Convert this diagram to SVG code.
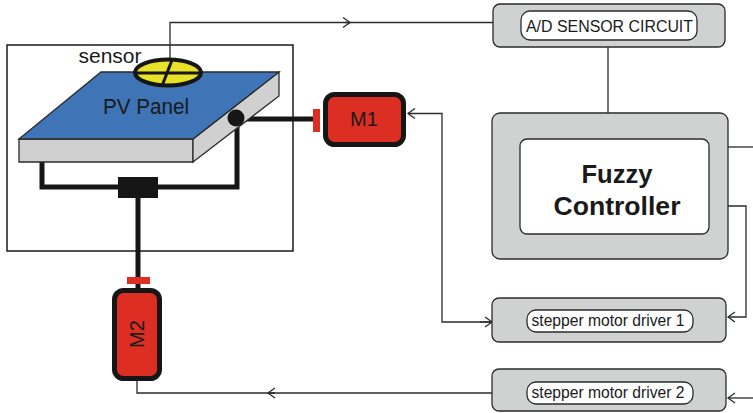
<svg xmlns="http://www.w3.org/2000/svg" width="753" height="413" viewBox="0 0 753 413">
  <defs>
    <style>
      .wire { fill: none; stroke: #2b2b2b; stroke-width: 1.3; }
      .thick { fill: none; stroke: #161616; stroke-width: 5; }
      .block { fill: #d0d1d1; stroke: #2b2b2b; stroke-width: 1.3; }
      .pill { fill: #ffffff; stroke: #2b2b2b; stroke-width: 1.3; }
      .motor { fill: #dc2e22; stroke: #161616; stroke-width: 5; }
      .label { font-family: "Liberation Sans", Arial, sans-serif; fill: #1a1a1a; text-anchor: middle; }
    </style>
    <marker id="open" markerWidth="10" markerHeight="12" refX="8" refY="6" orient="auto" markerUnits="userSpaceOnUse">
      <path d="M1,1 L8,6 L1,11" fill="none" stroke="#2b2b2b" stroke-width="1.3"/>
    </marker>
  </defs>

  <!-- panel enclosure -->
  <g id="enclosure">
    <rect x="7" y="45" width="286" height="206" fill="#ffffff" stroke="#1a1a1a" stroke-width="1.5"/>
  </g>

  <!-- connectors -->
  <g id="connectors">
    <!-- sensor to A/D circuit -->
    <path class="wire" d="M170,59 V22.5 H350" marker-end="url(#open)"/>
    <path class="wire" d="M345,22.5 H493"/>
    <!-- A/D circuit to fuzzy controller -->
    <path class="wire" d="M608,47 V113"/>
    <!-- fuzzy controller outputs -->
    <path class="wire" d="M728,147 H753"/>
    <path class="wire" d="M728,206 H746 V317 H728" marker-end="url(#open)"/>
    <!-- driver 1 to M1 -->
    <path class="wire" d="M492,322 H442 V113.5 H408" marker-end="url(#open)"/>
    <!-- left input into driver 1 -->
    <path class="wire" d="M480,322 H492" marker-end="url(#open)"/>
    <!-- into driver 2 from the right -->
    <path class="wire" d="M753,398 H728" marker-end="url(#open)"/>
    <!-- driver 2 to M2 -->
    <path class="wire" d="M492,393 H268" marker-end="url(#open)"/>
    <path class="wire" d="M275,393 H137 V380"/>
    <!-- heavy mechanical links -->
    <path class="thick" d="M42,162 V187 H237 V118"/>
    <path class="thick" d="M237,119 H314"/>
    <path class="thick" d="M138,198 V288"/>
  </g>

  <!-- PV panel -->
  <g id="pv-panel">
    <polygon points="19,139 193,139 193,162 19,162" fill="#cfd0cf" stroke="#2b2b2b" stroke-width="1.3"/>
    <polygon points="193,139 279,72 279,96 193,162" fill="#cfd0cf" stroke="#2b2b2b" stroke-width="1.3"/>
    <polygon points="19,139 101,72 279,72 193,139" fill="#3f74b6" stroke="#2b2b2b" stroke-width="1.3"/>
    <text class="label" x="146" y="114" font-size="22" textLength="86" lengthAdjust="spacingAndGlyphs">PV Panel</text>
    <circle cx="236" cy="118" r="8.5" fill="#161616"/>
  </g>

  <!-- light sensor on top of the panel -->
  <g id="sensor">
    <ellipse cx="168" cy="72.5" rx="33" ry="13" fill="#e8e327" stroke="#161616" stroke-width="4"/>
    <line x1="135" y1="73" x2="201" y2="73" stroke="#161616" stroke-width="3"/>
    <line x1="172" y1="60" x2="162" y2="86" stroke="#161616" stroke-width="3"/>
    <text class="label" x="110" y="63" font-size="20" textLength="63" lengthAdjust="spacingAndGlyphs">sensor</text>
  </g>

  <!-- coupling block under the panel -->
  <g id="gearbox">
    <rect x="118" y="177" width="40" height="21" fill="#161616"/>
  </g>

  <!-- motor M1 -->
  <g id="m1">
    <rect class="motor" x="325.5" y="94.5" width="78" height="50" rx="9"/>
    <rect x="313" y="109" width="7" height="23" fill="#dc2e22"/>
    <text class="label" x="364" y="126" font-size="20">M1</text>
  </g>

  <!-- motor M2 -->
  <g id="m2">
    <rect class="motor" x="114.5" y="290.5" width="45" height="88" rx="9"/>
    <rect x="127" y="277" width="23" height="7" fill="#dc2e22"/>
    <text class="label" x="0" y="0" font-size="20" transform="translate(144,334) rotate(-90)">M2</text>
  </g>

  <!-- A/D sensor circuit -->
  <g id="ad-sensor">
    <rect class="block" x="493" y="4" width="232" height="43" rx="7"/>
    <rect class="pill" x="521" y="11" width="176" height="29" rx="9"/>
    <text class="label" x="609.5" y="32" font-size="16" textLength="167" lengthAdjust="spacingAndGlyphs">A/D SENSOR CIRCUIT</text>
  </g>

  <!-- fuzzy controller -->
  <g id="fuzzy-controller">
    <rect class="block" x="492" y="113" width="236" height="146" rx="8"/>
    <rect class="pill" x="520" y="139" width="189" height="95" rx="7"/>
    <text class="label" x="617" y="183" font-size="26" font-weight="bold" textLength="71" lengthAdjust="spacingAndGlyphs">Fuzzy</text>
    <text class="label" x="617" y="215" font-size="26" font-weight="bold" textLength="127" lengthAdjust="spacingAndGlyphs">Controller</text>
  </g>

  <!-- stepper drivers -->
  <g id="driver-1">
    <rect class="block" x="492" y="298" width="234" height="44" rx="7"/>
    <rect class="pill" x="527" y="310" width="166" height="22" rx="9"/>
    <text class="label" x="608" y="326" font-size="16" textLength="153" lengthAdjust="spacingAndGlyphs">stepper motor driver 1</text>
  </g>

  <g id="driver-2">
    <rect class="block" x="492" y="369" width="234" height="42" rx="7"/>
    <rect class="pill" x="527" y="382" width="166" height="22" rx="9"/>
    <text class="label" x="608" y="397.5" font-size="16" textLength="153" lengthAdjust="spacingAndGlyphs">stepper motor driver 2</text>
  </g>
</svg>
